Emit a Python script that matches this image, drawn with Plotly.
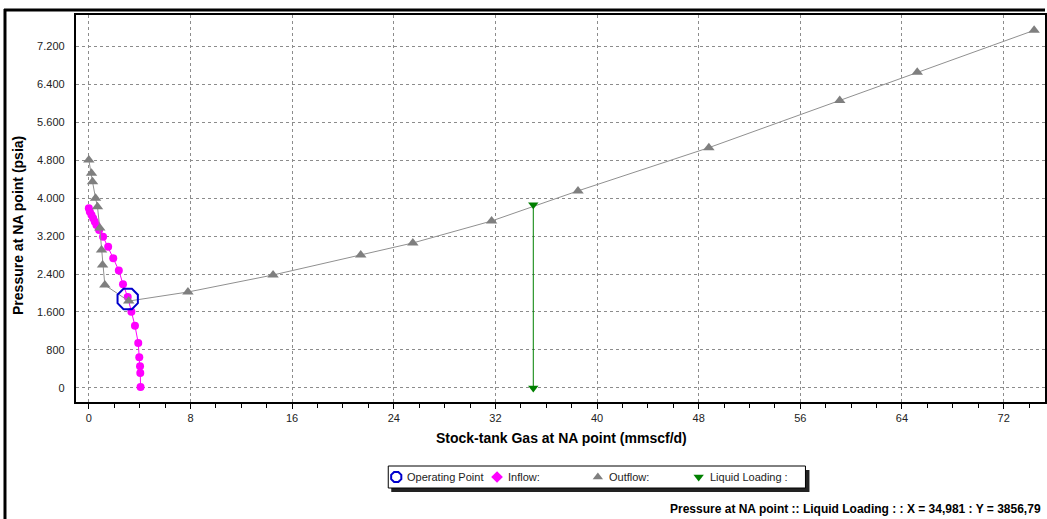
import plotly.graph_objects as go

# ---- data ----
outflow_x = [0.0, 0.21, 0.29, 0.53, 0.68, 0.86, 1.0, 1.08, 1.26, 3.14, 7.8, 14.5, 21.4, 25.5, 31.7, 38.5, 48.8, 59.1, 65.2, 74.4]
outflow_y = [4800, 4520, 4343, 3994, 3817, 3368, 2905, 2589, 2168, 1830, 2021, 2379, 2800, 3053, 3516, 4150, 5060, 6055, 6650, 7530]

inflow_x = [0.0, 0.08, 0.21, 0.34, 0.47, 0.60, 0.81, 1.12, 1.52, 1.92, 2.36, 2.69, 3.06, 3.35, 3.63, 3.89, 3.97, 4.03, 4.05, 4.07]
inflow_y = [3785, 3712, 3642, 3573, 3501, 3432, 3326, 3185, 2975, 2731, 2474, 2185, 1916, 1606, 1309, 947, 646, 457, 316, 20]

op_x = [3.06]
op_y = [1874]

liquid_x = [34.981, 34.981]
liquid_y = [0, 3856.79]

legend_names = ["Operating Point", "Inflow:", "Outflow:", "Liquid Loading :"]

x_ticks = [0, 8, 16, 24, 32, 40, 48, 56, 64, 72]
y_ticks = [0, 800, 1600, 2400, 3200, 4000, 4800, 5600, 6400, 7200]

W, H = 1047, 519
L, T, B, R = 76, 15, 117, 0

BLUE = "#0000CC"
MAG = "#FF00FF"
GRAY = "#7F7F7F"
GREEN = "#008000"
FONT = "Liberation Sans, Arial"

fig = go.Figure()

fig.add_trace(go.Scatter(
    x=inflow_x, y=inflow_y, mode="lines+markers", name="Inflow:",
    line=dict(color=MAG, width=1),
    marker=dict(symbol="circle", size=8, color=MAG),
))
fig.add_trace(go.Scatter(
    x=outflow_x, y=outflow_y, mode="lines+markers", name="Outflow:",
    line=dict(color="#909090", width=1),
    marker=dict(symbol="triangle-up", size=10, color=GRAY),
))
fig.add_trace(go.Scatter(
    x=liquid_x, y=liquid_y, mode="lines+markers", name="Liquid Loading :",
    line=dict(color=GREEN, width=1),
    marker=dict(symbol="triangle-down", size=9, color=GREEN),
))
fig.add_trace(go.Scatter(
    x=op_x, y=op_y, mode="markers", name="Operating Point",
    marker=dict(symbol="octagon-open", size=22, color=BLUE, line=dict(width=2, color=BLUE)),
))

# ---- legend drawn on a full-figure pixel overlay (x2/y2) ----
leg_sym_x = [397, 498, 599, 700]
leg_y = 477
leg_markers = [
    dict(symbol="octagon-open", size=11, color=BLUE, line=dict(width=2, color=BLUE)),
    dict(symbol="diamond", size=9, color=MAG),
    dict(symbol="triangle-up", size=9, color=GRAY),
    dict(symbol="triangle-down", size=9, color=GREEN),
]
for sx, mk, name in zip(leg_sym_x, leg_markers, legend_names):
    fig.add_trace(go.Scatter(x=[sx], y=[leg_y], xaxis="x2", yaxis="y2", mode="markers",
                             marker=mk, hoverinfo="skip", name=name))

grid = dict(showgrid=True, gridcolor="#8c8c8c", gridwidth=1, griddash="3px,3px", zeroline=False)

fig.update_layout(
    xaxis=dict(
        domain=[L / W, 1 - R / W],
        range=[(L - 89) / 12.73, (W - 89) / 12.73],
        tickvals=x_ticks, ticktext=[str(v) for v in x_ticks],
        showline=True, linecolor="black", linewidth=2, mirror=True,
        ticks="outside", ticklen=5, tickcolor="black",
        minor=dict(dtick=2, tick0=0, ticks="outside", ticklen=4, tickcolor="black", showgrid=False),
        tickfont=dict(family=FONT, size=11, color="#222"),
        **grid,
    ),
    yaxis=dict(
        domain=[B / H, 1 - T / H],
        range=[-295, 7853],
        tickvals=y_ticks, tickformat=",d",
        showline=True, linecolor="black", linewidth=2, mirror=True,
        ticks="", ticklabelstandoff=7,
        tickfont=dict(family=FONT, size=11, color="#222"),
        **grid,
    ),
    xaxis2=dict(domain=[0, 1], range=[0, W], visible=False, anchor="y2", fixedrange=True),
    yaxis2=dict(domain=[0, 1], range=[H, 0], visible=False, anchor="x2", fixedrange=True),
)

shapes = [
    # outer frame
    dict(type="line", xref="x2", yref="y2", x0=4, x1=W + 5, y0=10, y1=10,
         line=dict(color="black", width=3)),
    dict(type="line", xref="x2", yref="y2", x0=5, x1=5, y0=9, y1=H + 5,
         line=dict(color="black", width=3)),
    # legend shadow + box
    dict(type="rect", xref="x2", yref="y2", x0=392, x1=811, y0=470, y1=492,
         fillcolor="#222", line=dict(width=0), layer="below"),
    dict(type="rect", xref="x2", yref="y2", x0=389, x1=807, y0=466, y1=488,
         fillcolor="white", line=dict(color="black", width=1), layer="below"),
]

annotations = [
    dict(text="<b>Pressure at NA point (psia)</b>", xref="x2", yref="y2",
         x=18, y=225, xanchor="center", yanchor="middle", textangle=-90, showarrow=False,
         font=dict(family=FONT, size=14, color="black")),
    dict(text="<b>Stock-tank Gas at NA point (mmscf/d)</b>", xref="x2", yref="y2",
         x=563, y=438, xanchor="center", yanchor="middle", showarrow=False,
         font=dict(family=FONT, size=14, color="black")),
    dict(text="<b>Pressure at NA point :: Liquid Loading : : X = 34,981 : Y = 3856,79</b>",
         xref="x2", yref="y2", x=1045, y=509, xanchor="right", yanchor="middle",
         showarrow=False, font=dict(family=FONT, size=12, color="black")),
]
for sx, name in zip(leg_sym_x, legend_names):
    annotations.append(dict(text=name, xref="x2", yref="y2", x=sx + 9, y=leg_y,
                            xanchor="left", yanchor="middle", showarrow=False,
                            font=dict(family=FONT, size=11, color="#222")))

fig.update_layout(
    width=W, height=H,
    margin=dict(l=0, r=0, t=0, b=0),
    paper_bgcolor="white", plot_bgcolor="rgba(0,0,0,0)",
    separators=",.",
    showlegend=False,
    shapes=shapes,
    annotations=annotations,
)

fig.write_html("out.html")
